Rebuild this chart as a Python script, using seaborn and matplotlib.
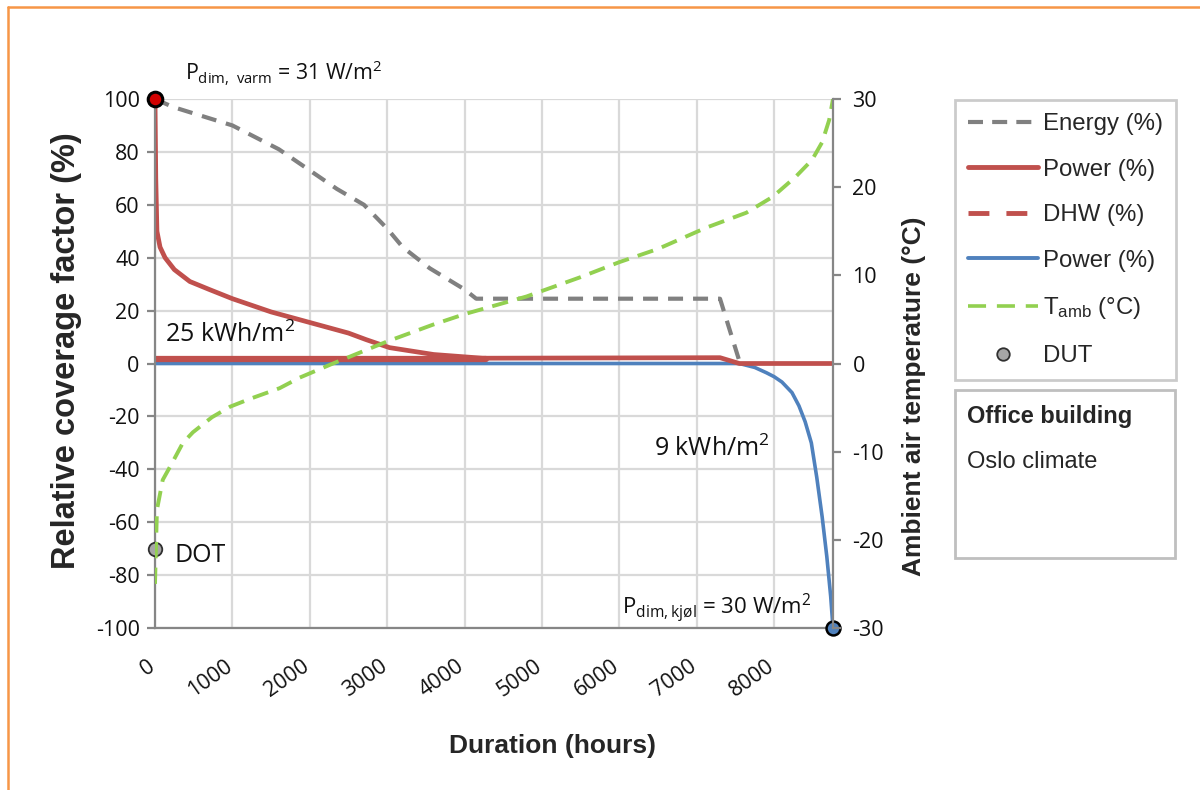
import matplotlib
matplotlib.use('Agg')
import matplotlib.pyplot as plt
import matplotlib.transforms as mtransforms
import seaborn as sns
import pandas as pd
from matplotlib.lines import Line2D
from matplotlib.patches import Rectangle

# ---------------- data ----------------
energy_hours = [0, 230, 1000, 1600, 2000, 2350, 2700, 3000, 3200, 3550, 4000, 4150, 7300, 7560]
energy_pct = [100, 97, 90, 81, 73, 66, 60, 51, 44, 36, 28, 24.5, 24.5, 0]

heat_hours = [0, 10, 25, 65, 130, 250, 450, 700, 1000, 1500, 2000, 2500, 2730, 3030, 3600, 4230, 7300, 7550, 8760]
heat_power = [100, 70, 50, 44, 40, 35.5, 31, 28, 24.5, 19.5, 15.5, 11.5, 9, 6, 3.4, 2, 2.2, 0, 0]

dhw_hours = [0, 4280]
dhw_pct = [1.8, 1.8]

cool_hours = [0, 7300, 7550, 7750, 7900, 8000, 8100, 8230, 8320, 8400, 8480, 8550, 8620, 8680, 8730, 8760]
cool_power = [0, 0, 0, -1.5, -3.5, -5, -7, -11, -16, -22, -30, -43, -58, -73, -88, -100]

t_hours = [0, 25, 100, 220, 360, 490, 735, 970, 1230, 1610, 1870, 2300, 3000, 3590, 4000, 4800,
           5500, 6000, 6500, 7120, 7640, 7980, 8280, 8490, 8620, 8710, 8760]
t_amb = [-25, -16.6, -13.2, -11.3, -9.0, -7.8, -6.1, -4.9, -4.0, -2.8, -1.6, 0, 2.5, 4.4, 5.6, 7.6,
         9.8, 11.5, 13, 15.4, 17.1, 18.9, 21.2, 23.1, 25.1, 27.6, 30]

heat_peak_hours = [0]
heat_peak_value = [100]
dot_hours = [0]
dot_value = [-70]
cool_peak_hours = [8760]
cool_peak_value = [-100]

x_ticks = list(range(0, 9000, 1000))
y_ticks = list(range(-100, 101, 20))
y2_ticks = list(range(-30, 31, 10))

legend_labels = ['Energy (%)', 'Power (%)', 'DHW (%)', 'Power (%)', r'T$_{amb}$ (°C)', 'DUT']

# ---------------- style ----------------
sns.set_style('white')
plt.rcParams['font.family'] = ['Open Sans', 'DejaVu Sans']
plt.rcParams['mathtext.default'] = 'regular'
plt.rcParams['axes.unicode_minus'] = False

GREY = '#808080'
RED = '#c0504d'
BLUE = '#4f81bd'
GREEN = '#92d050'
AXC = '#868686'
GRID = '#d9d9d9'
SANS = ['Liberation Sans', 'DejaVu Sans']

W, H = 1200, 790
fig = plt.figure(figsize=(12, 7.9), dpi=100)
L, R, T, B = 155, 833, 99, 628
ax = fig.add_axes([L / W, 1 - B / H, (R - L) / W, (B - T) / H])

ax.set_xlim(0, 8760)
ax.set_ylim(-100, 100)
ax.set_xticks(x_ticks)
ax.set_yticks(y_ticks)
ax.grid(True, color=GRID, lw=1.6)
ax.set_axisbelow(True)
for s in ['top', 'right']:
    ax.spines[s].set_visible(False)
for s in ['left', 'bottom']:
    ax.spines[s].set_color(AXC)
    ax.spines[s].set_linewidth(1.6)
ax.tick_params(axis='both', direction='out', length=6, width=1.6, color=AXC,
               labelsize=15.5, labelcolor='#111111')
ax.tick_params(axis='x', pad=14)
ax.tick_params(axis='y', pad=5)
shift = mtransforms.ScaledTranslation(-6 / 72, 0, fig.dpi_scale_trans)
for lab in ax.get_xticklabels():
    lab.set_rotation(35)
    lab.set_ha('right')
    lab.set_rotation_mode('anchor')
    lab.set_transform(lab.get_transform() + shift)

# lines on primary axis
sns.lineplot(x=energy_hours, y=energy_pct, ax=ax, color=GREY, lw=3, estimator=None, sort=False)
ax.lines[-1].set_dashes((3.6, 2.4))
sns.lineplot(x=cool_hours, y=cool_power, ax=ax, color=BLUE, lw=2.6, estimator=None, sort=False)
sns.lineplot(x=dhw_hours, y=dhw_pct, ax=ax, color=RED, lw=4.5, estimator=None, sort=False)
sns.lineplot(x=heat_hours, y=heat_power, ax=ax, color=RED, lw=3.4, estimator=None, sort=False)

sns.scatterplot(x=heat_peak_hours, y=heat_peak_value, ax=ax, s=110, color='#d00000',
                edgecolor='black', linewidth=2.2, zorder=6, clip_on=False)
sns.scatterplot(x=dot_hours, y=dot_value, ax=ax, s=95, color='#a6a6a6',
                edgecolor='#303030', linewidth=1.3, zorder=6, clip_on=False)
sns.scatterplot(x=cool_peak_hours, y=cool_peak_value, ax=ax, s=100, color=BLUE,
                edgecolor='black', linewidth=1.8, zorder=6, clip_on=False)

# secondary axis
ax2 = ax.twinx()
ax2.set_ylim(-30, 30)
ax2.set_yticks(y2_ticks)
for s in ['top', 'left', 'bottom']:
    ax2.spines[s].set_visible(False)
ax2.spines['right'].set_color(AXC)
ax2.spines['right'].set_linewidth(1.6)
ax2.tick_params(axis='y', direction='out', length=6, width=1.6, color=AXC,
                labelsize=15.5, labelcolor='#111111', pad=8)
sns.lineplot(x=t_hours, y=t_amb, ax=ax2, color=GREEN, lw=2.8, estimator=None, sort=False)
ax2.lines[-1].set_dashes((4.2, 2.4))
ax2.set_xlim(0, 8760)

# axis labels
ax.set_xlabel('Duration (hours)', family=SANS, fontsize=19, fontweight='bold')
ax.set_ylabel('Relative coverage factor (%)', family=SANS, fontsize=23.5, fontweight='bold')
ax2.set_ylabel('Ambient air temperature (°C)', family=SANS, fontsize=19, fontweight='bold')
ax.xaxis.set_label_coords((553 - L) / (R - L), (B - 734) / (B - T))
ax.yaxis.set_label_coords((82 - L) / (R - L), 1 - (351 - T) / (B - T))
ax2.yaxis.set_label_coords((902 - L) / (R - L), 1 - (396 - T) / (B - T))

# annotations
ann = dict(color='#111111', va='baseline')
ax.text(390, 107, r'P$_{dim,\ varm}$ = 31 W/m$^{2}$', fontsize=15.3, **ann, clip_on=False)
ax.text(130, 8.3, r'25 kWh/m$^{2}$', fontsize=18, **ann)
ax.text(6450, -35, r'9 kWh/m$^{2}$', fontsize=18, **ann)
ax.text(6040, -95, r'P$_{dim,kjøl}$ = 30 W/m$^{2}$', fontsize=16, **ann)
ax.text(258, -75, 'DOT', fontsize=18, **ann)

# legend
handles = [
    Line2D([], [], color=GREY, lw=3, dashes=(3.6, 2.2)),
    Line2D([], [], color=RED, lw=3.5, solid_capstyle='round'),
    Line2D([], [], color=RED, lw=3.5, dashes=(4.3, 3.5)),
    Line2D([], [], color=BLUE, lw=2.8, solid_capstyle='round'),
    Line2D([], [], color=GREEN, lw=2.6, dashes=(5, 3)),
    Line2D([], [], ls='none', marker='o', ms=9, mfc='#a6a6a6', mec='#303030', mew=1.3),
]
leg = fig.legend(handles, legend_labels, loc='upper left',
                 bbox_to_anchor=(955 / W, 1 - 100 / H), borderaxespad=0,
                 prop=dict(family=SANS, size=17.3),
                 frameon=True, fancybox=False, edgecolor='#bfbfbf',
                 handlelength=2.9, handletextpad=0.2, labelspacing=0.98,
                 borderpad=0.55)
leg.get_frame().set_linewidth(2)

# info box
fig.patches.append(Rectangle((955 / W, 1 - 558 / H), 220 / W, 168 / H,
                             transform=fig.transFigure, fill=False,
                             edgecolor='#bfbfbf', lw=2))
fig.text(967 / W, 1 - 416 / H, 'Office building', family=SANS,
         fontsize=17, fontweight='bold', va='center', ha='left')
fig.text(967 / W, 1 - 462 / H, 'Oslo climate', family=SANS,
         fontsize=17, va='center', ha='left')

# orange frame (top and left edges)
fig.add_artist(Line2D([8 / W, 1], [1 - 7 / H, 1 - 7 / H], transform=fig.transFigure,
                      color='#f79646', lw=1.8))
fig.add_artist(Line2D([8 / W, 8 / W], [0, 1 - 7 / H], transform=fig.transFigure,
                      color='#f79646', lw=1.8))

fig.savefig('out.png', dpi=100)
